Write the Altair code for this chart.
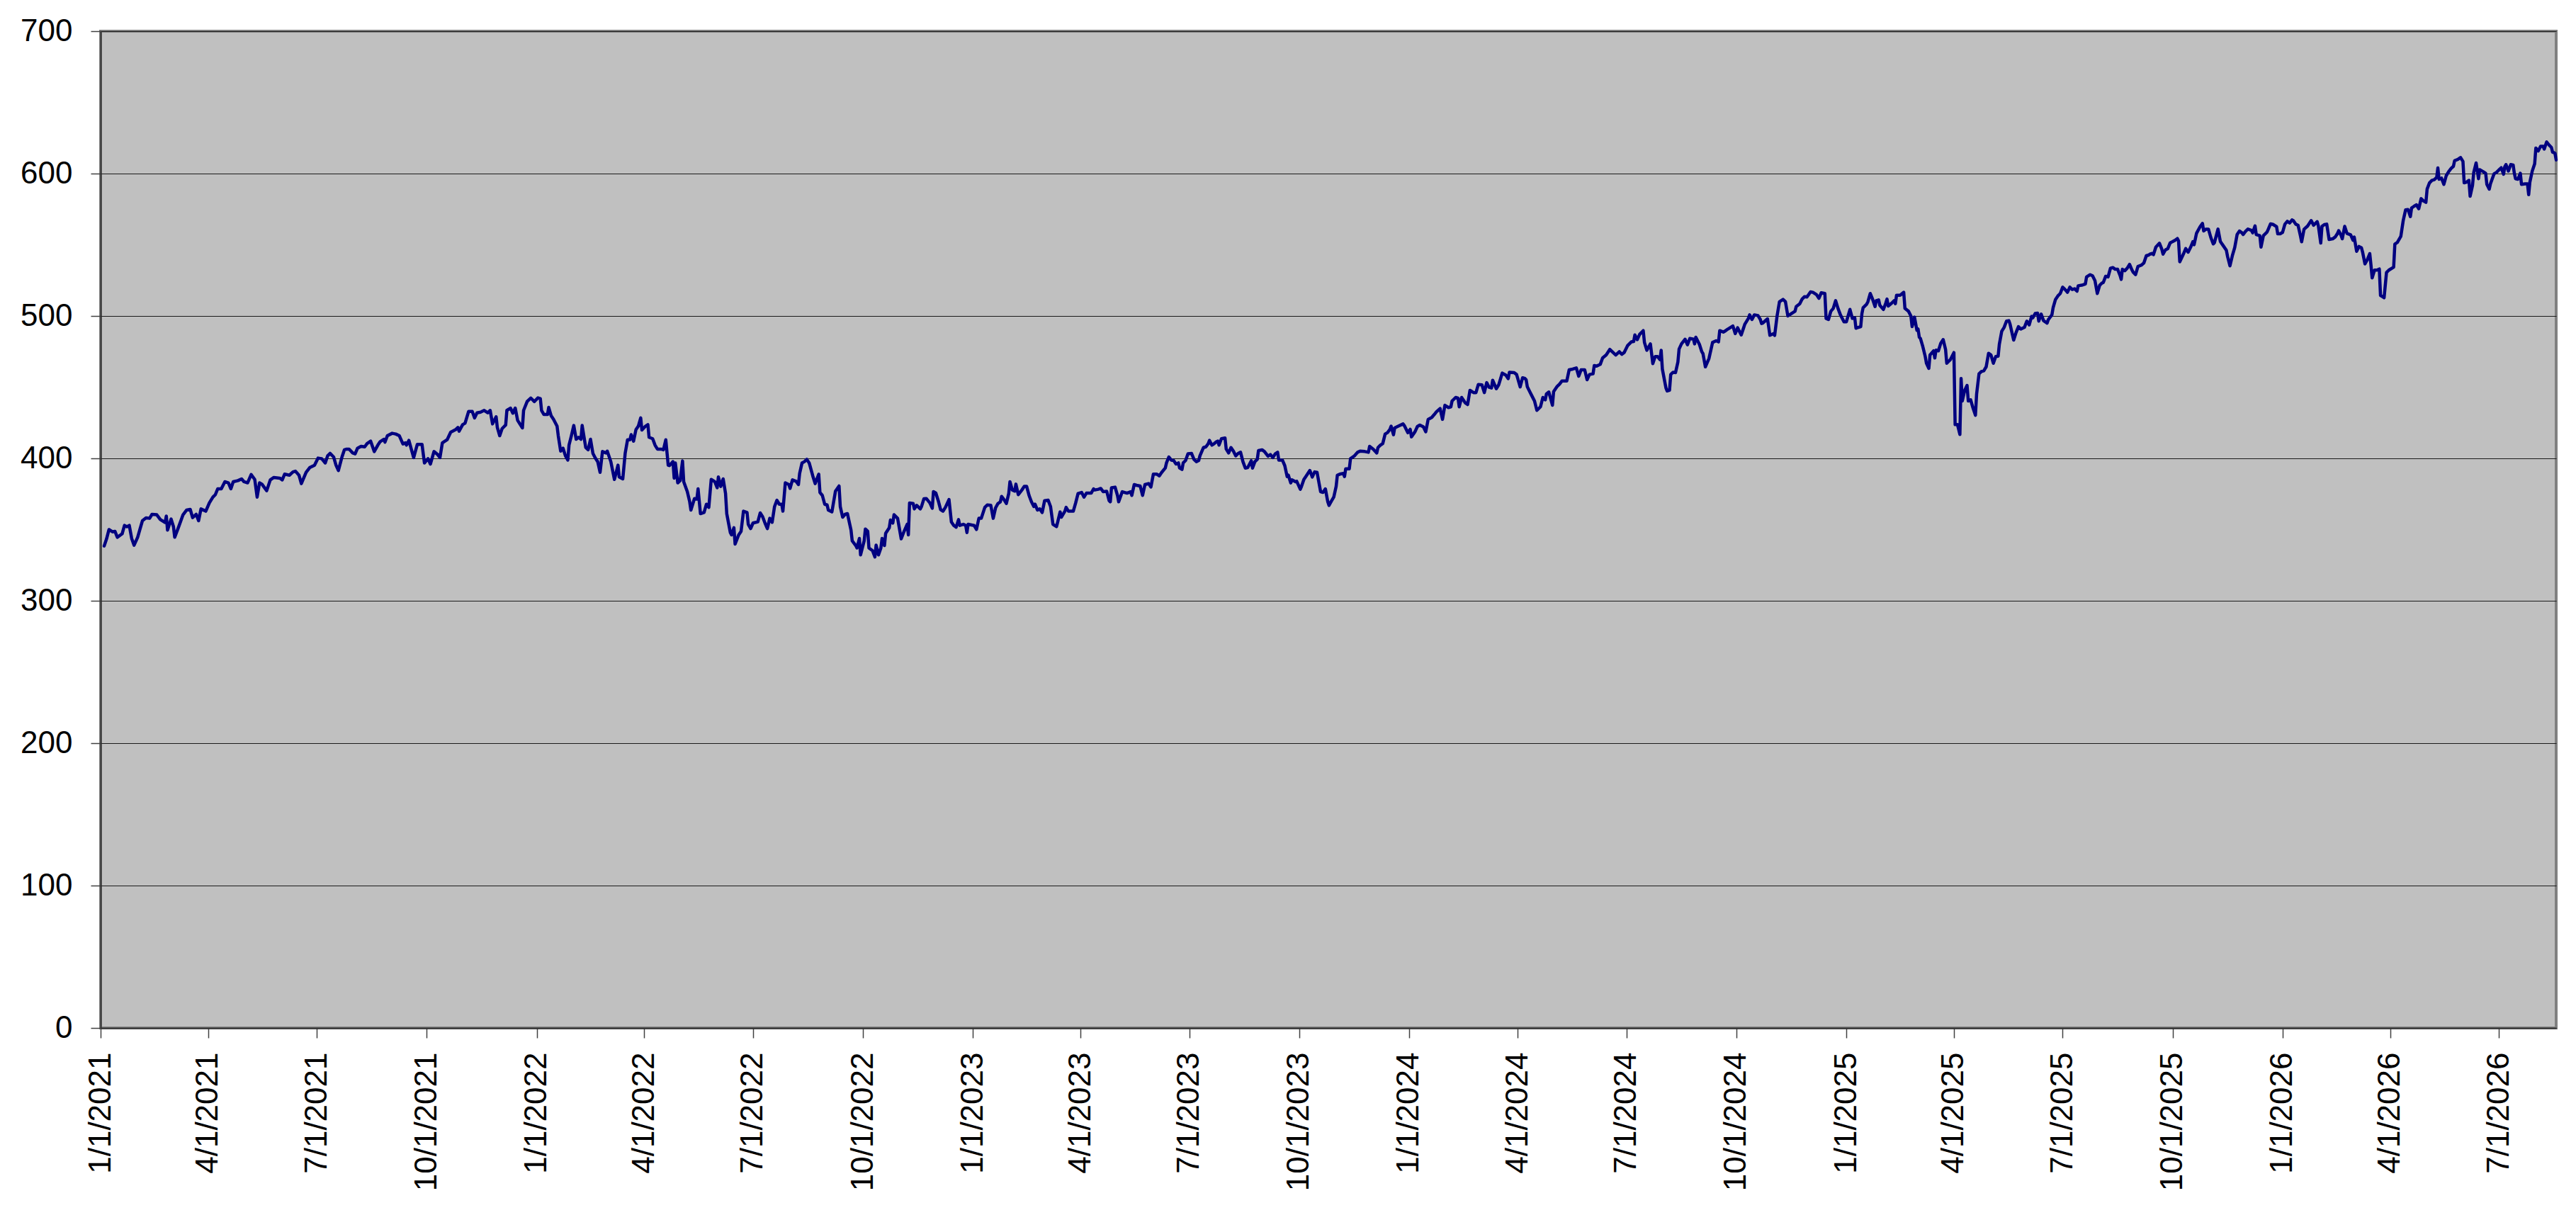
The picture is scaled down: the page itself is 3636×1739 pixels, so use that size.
import altair as alt
import pandas as pd

# Day-of-year offsets (from Jan 1 of each year) and values
D2021 = [3,5,7,10,12,14,18,20,22,24,26,28,31,33,35,38,41,43,47,50,54,55,56,59,61,62,65,69,72,75,
         77,80,82,84,88,91,94,96,98,101,104,107,109,111,115,118,120,123,126,129,131,133,135,139,142,145,150,152,154,158,
         161,163,166,168,172,175,179,182,185,188,190,192,195,197,199,202,204,206,208,211,213,215,218,221,223,226,229,232,234,237,
         238,240,244,247,250,253,255,256,258,262,265,269,271,274,276,279,282,284,286,290,293,297,299,300,303,305,308,311,313,315,
         318,321,324,326,328,331,332,334,336,339,340,343,345,347,349,353,354,357,360,363]
V2021 = [338.5,343.5,350,348.4,348.8,344.6,347,352.9,352,352.9,343.8,339,344.6,350.4,356.2,358.2,357.9,360.7,360.4,357,
         355,359.5,349.6,357.4,352,344.6,351.2,360.4,363.7,364.2,358.4,360.7,356.2,364.5,362.9,368.7,372.8,374.5,378.6,378.6,
         383.6,382.8,378.6,383.6,384.4,385.6,383.6,382.8,388.6,385.2,372.8,382.8,381.9,377.3,384.9,386.6,386.1,384.9,388.9,388.2,
         390.5,391,388.2,382.3,390.2,393.5,395.2,400.2,399.8,396.8,401.8,403.5,401,395.2,391.5,401,406,406.5,406.5,403.8,
         403.2,407.1,408.5,408.1,410.4,412.1,404.8,409.3,411.8,413.4,411.4,415.9,417.6,417.1,415.9,410.1,410.9,409.3,412.6,400.5,
         409.8,409.8,396.8,399.8,396,404.8,402.7,400.5,410.9,413.1,418.4,420.1,421.7,419.1,423.7,424.7,433,433,428.4,432,
         432.5,433.7,432,433.7,424.2,429.2,421.7,415.9,420.9,423.4,433.7,435.3,431.7,435.3,426.7,421.4,433.7,440,442.4,439.9]

D2022 = [1,3,4,6,9,10,12,14,17,18,20,22,24,26,27,29,31,33,35,37,38,41,43,45,47,49,51,53,55,58,
         59,62,65,68,69,72,74,76,78,79,81,83,85,87,88,91,93,94,97,99,101,104,106,108,110,111,114,115,116,118,
         120,122,123,126,128,129,132,134,135,137,140,142,144,146,149,151,152,154,156,158,159,162,163,165,166,169,171,173,176,177,
         179,181,185,187,189,191,193,195,197,199,201,203,205,206,208,211,212,214,217,219,220,222,224,226,228,231,233,236,237,239,
         241,243,244,247,250,253,254,256,258,260,263,264,267,268,270,271,274,275,277,278,281,283,284,286,288,289,291,292,295,296,
         298,299,302,305,307,310,311,312,315,316,318,321,322,324,326,329,331,332,334,336,338,340,342,345,347,349,351,353,354,357,
         359,360,361]
V2022 = [442.5,442,433.7,430.8,430.8,435.8,430,427.5,422.6,415.9,405.1,407.1,401.8,398.8,409.3,415.9,423.1,413.4,414.8,413.4,
         423.1,407.6,406,413.4,403.5,400.2,397.7,390.2,404.8,403.8,405.1,397.7,385.2,395.2,386.9,385.6,403.5,413.1,413.1,416.7,
         412.1,420.1,422.6,428.4,419.9,422.6,423.7,414.8,413.8,409.3,406.5,406.5,406,413.1,395.2,394.9,397.7,386.1,396.8,382.8,
         384.4,398.2,383.6,376.6,369.5,363.7,371.8,371.4,378.6,361.2,362,367.8,365.6,385.2,383.6,379.4,386.9,380.3,385.6,375.3,
         361.2,347.9,346.3,351.3,339.8,346.3,348.8,362.9,362,353.7,350.7,354.6,355.4,361.7,359.1,354.6,350.7,357.9,355.1,366.2,
         370.6,367.8,367.8,362.9,382.8,381.6,378.9,384.9,383.9,381.6,389.4,396.8,397.7,399.3,396.8,387.7,382.3,388.9,376.1,374,
         367.8,367.3,363.7,362.4,377,380.6,366.2,358.7,360.7,361.2,349.6,342.1,338.8,337.1,343.8,332.2,342.1,350.4,348.8,337.1,
         335.2,330.8,339.1,332.2,337.1,343.8,338.8,347.4,351.2,356.7,354.6,360.4,357.9,343.5,347.9,353.7,346.3,368.7,368.3,364.5,
         367,364.5,366.2,371.6,371.8,368.7,365,376.6,375.6,370.3,364,362.9,365.6,371.1,355.4,352.9,351.7,357,352.9,353.7,
         352.9,347.9,353.7]

D2023 = [1,3,5,7,10,12,15,17,19,21,23,24,26,28,30,31,33,35,36,38,41,43,45,47,49,51,52,54,56,58,
         60,63,65,67,70,71,73,74,77,78,80,84,86,88,91,93,95,99,101,102,105,107,109,112,114,115,116,119,121,122,
         125,127,129,132,133,135,137,140,142,144,147,149,151,154,156,158,161,162,164,166,168,170,172,173,175,176,178,180,183,185,
         187,189,190,193,195,197,198,200,202,204,205,206,208,211,212,214,216,218,220,222,224,226,228,230,233,234,236,238,239,242,
         244,247,249,251,253,255,256,259,261,263,264,266,267,270,271,274,275,277,279,282,284,286,288,291,293,295,297,298,300,302,
         304,305,307,310,311,312,315,316,319,322,324,328,331,332,335,338,339,341,343,345,347,349,350,352,353,356,360,361,364]
V2023 = [352.9,350.1,357.9,357.9,365.6,367.3,367,357.9,365.3,368.3,369.5,373.3,371.1,368.3,375.3,383.6,377.8,377,381.9,374.5,
         377.8,380.3,380.3,374,369.5,366.2,367.8,363.7,364.5,362,370.3,370.6,366.2,353.7,352.1,355.4,362.4,358.7,362.9,365.6,
         362.9,362.9,368.7,375.3,376.1,372.8,375.6,375.6,378.6,377.8,378.3,378.9,376.6,376.9,370.3,369.5,379.4,379.8,374,369.5,
         376.6,376.1,375.6,376.6,374,381.6,381.1,380.6,374,381.6,382.3,379.9,388.9,388.9,387.7,390.2,393.2,396.8,401,398.8,
         398.5,396,396.8,393.2,392.2,396.8,398.5,403.2,403.5,399.3,397.7,398.5,401.8,407.6,408.1,410.4,412.6,409.3,410.4,411.8,
         412.1,409.3,413.8,414.3,406.5,403.8,407.6,405.1,401.8,403.5,404.3,397.7,393.2,393.5,398.3,393.2,397.7,399.3,405.5,406,
         404.8,401.5,402.7,400.5,403.2,404.3,398.8,398.8,394.9,387.2,388.2,382.8,384.9,383.6,383.9,378.3,380.3,385.2,387.7,391.5,
         386.9,390.5,390.2,376.6,376.1,378.6,369.5,367,370,372.8,380.3,388.2,388.9,389.4,387.2,392.7,392.7,399.8,401.5,404.3,
         405.1,404.8,404.3,408.5,406.5,403.8,407.6,409.3,410.4,417.1,418.1,420.4,422.6,416.6,421.4,422.6,424.2,423.1,418]

D2024 = [1,2,5,7,9,12,14,16,19,21,23,26,28,30,33,35,36,39,41,42,44,47,49,51,54,56,58,61,63,65,
         67,69,70,73,75,78,81,83,84,88,90,91,93,95,97,98,99,101,103,105,107,110,112,114,115,117,120,121,124,126,
         128,132,134,137,140,142,144,147,149,151,154,155,157,160,162,165,168,170,173,176,178,180,183,186,188,189,191,193,196,197,
         199,202,204,206,208,210,211,212,215,216,218,219,221,223,225,226,228,231,233,235,238,239,240,243,245,246,248,251,254,257,
         259,260,263,265,267,271,273,275,278,280,281,284,285,287,289,292,294,295,296,300,302,305,306,308,310,313,315,317,320,323,
         324,327,329,331,333,336,338,341,343,345,348,349,351,353,355,357,359,361,364]
V2024 = [420.4,415.1,418.7,422.4,423.4,422.1,418.7,427.4,428.7,430.7,432.8,435,427.4,437.3,435.7,436.2,440.3,442.8,442.3,436.2,
         442.8,439,437.8,447.8,446.2,446.2,451.9,451.6,446.2,453.2,449.9,449.4,454.9,448.9,451.6,459.9,458.5,456,460.5,460.2,
         458.9,456,450.2,456.6,456.1,455.2,450.2,446.9,443.6,440.3,433.7,436.2,442.8,441.1,445.3,446.6,437.3,446.9,450.6,452.2,
         454.4,454.4,462.2,462.7,463.5,457.7,462.2,462.2,455.2,458.9,459.4,465.2,464.8,466,470.5,472.6,476.5,474.9,472.6,474.9,
         473.1,474.3,479.3,481.8,482.1,486.7,483.4,487.1,489.7,481.4,475.9,480.4,466.5,471.5,471.5,469.3,475.9,462.7,449.4,447.3,
         447.8,458.9,460.5,460.2,467.7,476.8,480.4,483.7,479.8,484.2,483.7,480.4,485.1,480.1,474.9,473.5,464.3,470.1,481.4,482.6,
         481.8,489.7,488.7,489.7,490.9,493,487.6,491.7,486.7,491.7,494.2,498.3,500.8,497.5,500.8,500.3,497.5,494.7,495,498,
         486.4,487.6,486.4,500,510,511.6,510,500,501.7,503.3,506.6,508.6,511.9,513.6,513.3,516.9,516.6,515,512.4,516.3,
         515.8,498.3,497.5,503.3,505.3,510.8,505.3,500.8,495.9]

D2025 = [0,2,3,5,7,8,9,12,13,14,17,18,20,22,24,25,27,28,31,33,34,35,38,40,41,42,45,48,49,52,
         54,55,57,59,60,61,62,64,66,67,69,70,73,74,75,77,79,81,83,84,87,90,91,93,95,96,97,99,101,102,
         104,106,108,109,111,113,115,117,119,121,123,125,127,128,130,132,134,136,137,139,140,142,144,146,149,151,153,155,156,158,
         160,161,163,165,168,169,172,173,175,177,179,181,183,185,187,189,191,193,194,197,200,201,204,206,208,210,212,214,215,217,
         219,221,223,225,227,229,230,231,233,235,237,239,240,242,244,247,249,251,253,254,256,257,259,262,264,265,267,269,271,273,
         275,277,278,279,282,284,286,288,290,291,293,296,298,299,301,303,305,307,308,311,313,315,318,319,321,323,325,327,329,331,
         332,334,336,339,340,342,343,346,347,349,352,353,355,357,360,361,363]
V2025 = [495.9,501.7,504.6,498.3,498.7,491.4,491.7,492.5,501.7,505.8,508.3,510,515.8,511.6,506.6,510.8,511.3,507.5,504.6,509.1,
         511.9,507,509.1,510.8,508.6,514.6,514.6,516.6,505.3,503.3,500,492.5,499.2,490,490.8,485.1,484.2,478.4,471.5,466.8,
         463.2,472.6,475.5,470.5,476,475.5,480.9,483.4,476.5,466.8,469.3,474.3,423.7,423.7,416.8,456.1,440.3,447.8,451.2,440.3,
         441.1,435.3,430.3,445.3,459.4,461,461.5,464.3,473.8,472.6,466.8,471.5,471.8,480.1,489.2,492,496.4,496.7,494.2,486.7,
         483.1,488.4,492.5,490.8,492,496.4,493.7,499.7,498.7,501.7,502,496.4,501.3,496.7,495,497.5,500.8,505.8,511.6,514.1,
         515.8,520.2,518.6,516.6,520.2,518.6,519.1,517.4,521.2,521.6,522.4,527.4,529,528.2,524.9,515.8,521.6,523.2,523.5,527.9,
         527.4,533.5,534,532.8,532.8,528.5,525.7,532.8,531.8,533.5,536.2,532.3,530.7,529,534.8,535.7,537.3,542.3,542.8,543.4,
         543.9,543.1,548.4,551.1,546.8,543.4,546.4,547.3,551.4,552.2,553.1,554.4,552.7,538.1,543.4,547.3,544.8,548.1,552.2,550.1,
         558,562.7,565,559.7,561,561,555.1,550.6,551.4,561,552.2,549.8,546.1,541.8,535.2,542.3,548.1,557.2,559.7,558.4,
         557.2,559.4,561,560.1,558.4,563.3,557.2,556.4,548.4,556.4,558.9,560.8,564.7,564.3,562.7,557.7,557.7]

D2026 = [0,2,4,6,8,9,11,13,15,16,18,21,24,26,29,30,32,33,35,37,39,42,44,46,47,49,50,52,54,57,
         59,60,62,64,66,67,69,71,73,74,75,77,79,81,82,84,85,87,89,93,94,96,99,101,103,105,107,108,110,112,
         114,116,118,120,121,123,125,127,129,130,131,133,135,137,139,141,143,144,147,149,151,152,154,156,157,159,160,162,164,165,
         168,170,171,173,174,177,179,181,183,185,186,187,189,191,193,194,195,197,199,200,203,205,206,207,209,211,212,214,216,218,
         219,221,223,225,226,228,229]
V2026 = [558.7,564.5,566.5,565.3,567.5,567,564.5,563.7,556.2,552.1,560.9,563.2,567,563.7,566.2,563.2,551.2,562.9,564.2,564.5,
         553.7,554.2,555.4,557.9,559.9,556.6,554.2,562.9,557.9,557,553.2,555.4,545.4,548.8,547.9,544.9,536.6,539.6,543.8,536,
         526.7,532.2,532.2,533,514.4,513.4,512.8,530.5,532.2,534.3,550.4,551.6,555.9,567,574.5,574.8,569.8,575.8,577,578.1,
         575.3,582.4,580.8,579.8,589.1,593.5,595.2,595.7,597.3,604,596,596.8,592.4,598.5,601.3,603.5,605.1,609,610.1,611.3,
         608.5,593.5,594,595.2,584.1,591.7,600.7,607.5,596.4,602.7,601.3,600.2,592.4,589.1,592.8,599.8,600.8,602.5,604.1,599.5,
         604.8,606.3,601.8,606.3,606,600.2,596.4,596,600.2,592.4,592.8,592.8,585.2,594,601.8,606.8,617.9,615.9,619.2,619.2,
         617.2,622.2,620.1,618.4,615.1,614.3,609.6]

X_TICKS = ["2021-01-01", "2021-04-01", "2021-07-01", "2021-10-01",
           "2022-01-01", "2022-04-01", "2022-07-01", "2022-10-01",
           "2023-01-01", "2023-04-01", "2023-07-01", "2023-10-01",
           "2024-01-01", "2024-04-01", "2024-07-01", "2024-10-01",
           "2025-01-01", "2025-04-01", "2025-07-01", "2025-10-01",
           "2026-01-01", "2026-04-01", "2026-07-01"]
X_START = "2021-01-01"
X_END = "2026-08-18"
Y_TICKS = [0, 100, 200, 300, 400, 500, 600, 700]

frames = []
for year, days, vals in [(2021, D2021, V2021), (2022, D2022, V2022), (2023, D2023, V2023),
                         (2024, D2024, V2024), (2025, D2025, V2025), (2026, D2026, V2026)]:
    n = min(len(days), len(vals))
    base = pd.Timestamp(year=year, month=1, day=1)
    frames.append(pd.DataFrame({
        "date": [(base + pd.Timedelta(days=int(d))).strftime("%Y-%m-%dT00:00:00") for d in days[:n]],
        "value": vals[:n],
    }))
df = pd.concat(frames, ignore_index=True)


def dt(s):
    t = pd.Timestamp(s)
    return alt.DateTime(year=t.year, month=t.month, date=t.day)


FONT = "Liberation Sans"

chart = alt.Chart(df).mark_line(
    color="#000080", strokeWidth=4.5, strokeJoin="round", strokeCap="round"
).encode(
    x=alt.X(
        "date:T",
        scale=alt.Scale(domain=[dt(X_START), dt(X_END)], nice=False),
        axis=alt.Axis(
            values=[dt(s) for s in X_TICKS], format="%-m/%-d/%Y", labelAngle=-90,
            grid=False, title=None, tickSize=14, tickWidth=1.5, tickColor="#404040",
            labelPadding=20, labelFontSize=44, labelFont=FONT, labelColor="black",
            labelFlush=False, labelOverlap=False, labelLimit=0,
            domainColor="#303030", domainWidth=2,
        ),
    ),
    y=alt.Y(
        "value:Q",
        scale=alt.Scale(domain=[0, 700], nice=False),
        axis=alt.Axis(
            values=Y_TICKS, grid=True, gridColor="#1a1a1a", gridWidth=1.2, title=None,
            tickSize=14, tickWidth=1.5, tickColor="#404040", labelPadding=26,
            labelFontSize=44, labelFont=FONT, labelColor="black", labelLimit=0,
            domainColor="#303030", domainWidth=2, labelFlush=False,
        ),
    ),
).properties(
    width=3466,
    height=1407,
    background="white",
    padding={"left": 134, "top": 36, "right": 20, "bottom": 280},
    autosize=alt.AutoSizeParams(type="none"),
).configure_view(
    fill="#C0C0C0", stroke="#808080", strokeWidth=4
)

chart.save("out.html", embed_options={"renderer": "svg", "actions": False})
